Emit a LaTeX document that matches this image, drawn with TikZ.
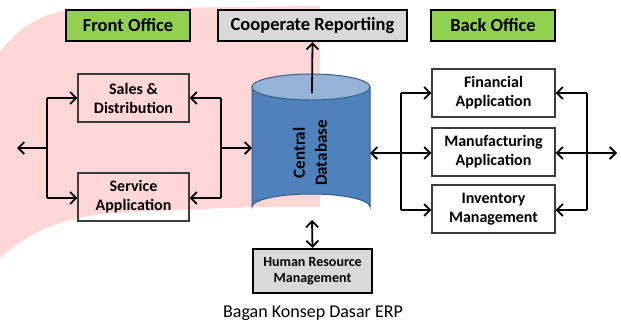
\documentclass[tikz,border=0pt]{standalone}
\usepackage{fontspec}
\setmainfont{Carlito}
\usetikzlibrary{arrows.meta}
\definecolor{pinkbg}{RGB}{255,215,215}
\definecolor{hdgreen}{RGB}{146,208,80}
\definecolor{hdgray}{RGB}{217,217,217}
\definecolor{dbbody}{RGB}{79,129,189}
\definecolor{dbtop}{RGB}{149,179,215}
\definecolor{dbline}{RGB}{56,93,138}
\definecolor{boxline}{RGB}{60,60,60}
\begin{document}
\begin{tikzpicture}[x=1pt,y=-1pt,
  header/.style={draw=black, line width=2.4pt, inner sep=0pt, minimum width=124pt, minimum height=31pt, font=\bfseries\fontsize{18.5}{20}\selectfont},
  appbox/.style={draw=boxline, line width=1.3pt, inner sep=0pt, minimum height=48pt, align=center, font=\bfseries\fontsize{16}{19}\selectfont},
  arr/.style={line width=1.8pt, -{Straight Barb[length=6pt,width=12pt]}},
  darr/.style={line width=1.8pt, {Straight Barb[length=6pt,width=12pt]}-{Straight Barb[length=6pt,width=12pt]}},
  bus/.style={line width=1.8pt}]
\useasboundingbox (0,0) rectangle (621,325);
% pink background
\fill[pinkbg] (0,52) .. controls (20,25) and (45,11) .. (80,9) -- (320,6) -- (320,207) -- (250,207)
  -- (110,213) .. controls (60,218) and (30,232) .. (0,258) -- cycle;
% headers
\node[header, fill=hdgreen] (front) at (128,25.5) {Front Office};
\node[header, fill=hdgray, minimum width=189pt] (coop) at (312.5,25.5) {Cooperate Reportiing};
\node[header, fill=hdgreen] (back) at (493,25.5) {Back Office};
% front office boxes
\node[appbox, minimum width=111pt, fill=pinkbg] (sales) at (133.5,98) {Sales \&\\Distribution};
\node[appbox, minimum width=111pt] (service) at (133.5,197) {Service\\Application};
% back office boxes
\node[appbox, minimum width=123pt, fill=white] (fin) at (493.5,93) {Financial\\Application};
\node[appbox, minimum width=123pt, fill=white] (manu) at (493.5,152) {Manufacturing\\Application};
\node[appbox, minimum width=123pt, fill=white] (inv) at (493.5,209) {Inventory\\Management};
% HR
\node[draw=black, line width=2.2pt, fill=hdgray, inner sep=0pt, minimum width=119pt, minimum height=44pt, align=center, font=\bfseries\fontsize{14}{16}\selectfont] (hr) at (312.5,271) {Human Resource\\Management};
% cylinder
\filldraw[fill=dbbody, draw=dbline, line width=1pt] (252,87) -- (252,207) arc[start angle=180,end angle=360,x radius=59,y radius=13] -- (370,87) -- cycle;
\filldraw[fill=dbtop, draw=dbline, line width=1pt] (311,87) ellipse[x radius=59,y radius=13];
\node[rotate=90, align=center, font=\bfseries\fontsize{17}{22}\selectfont] (db) at (310,153) {Central\\Database};
\coordinate (dbtopc) at (312,93);
\coordinate (dbbot) at (312,220);
\coordinate (dbleft) at (252,148);
\coordinate (dbright) at (370,153);
% caption
\node[font=\fontsize{18}{20}\selectfont] (cap) at (313,313) {Bagan Konsep Dasar ERP};
% connectors
\draw[arr] (dbtopc) -- (coop.south);
\draw[darr] (dbbot) -- (hr.north);
% left bus
\coordinate (lbt) at (47,98);
\coordinate (lbb) at (47,198);
\coordinate (lbm) at (47,148);
\coordinate (lout) at (17,148);
\draw[bus] (lbt) -- (lbb);
\draw[arr] (lbt) -- (sales.west);
\draw[arr] (lbb) -- (service.west |- lbb);
\draw[arr] (lbm) -- (lout);
% front right bus
\coordinate (rbt) at (221,98);
\coordinate (rbb) at (221,198);
\coordinate (rbm) at (221,148);
\draw[bus] (rbt) -- (rbb);
\draw[arr] (rbt) -- (sales.east);
\draw[arr] (rbb) -- (service.east |- rbb);
\draw[arr] (rbm) -- (dbleft);
% back left bus
\coordinate (blt) at (401,93);
\coordinate (blb) at (401,210);
\draw[bus] (blt) -- (blb);
\draw[arr] (blt) -- (fin.west);
\draw[arr] (blb) -- (inv.west |- blb);
\draw[darr] (dbright) -- (manu.west |- dbright);
% back right bus
\coordinate (brt) at (587,93);
\coordinate (brb) at (587,210);
\coordinate (rout) at (617,153);
\draw[bus] (brt) -- (brb);
\draw[arr] (brt) -- (fin.east);
\draw[arr] (brb) -- (inv.east |- brb);
\draw[darr] (manu.east |- rout) -- (rout);
\end{tikzpicture}
\end{document}
